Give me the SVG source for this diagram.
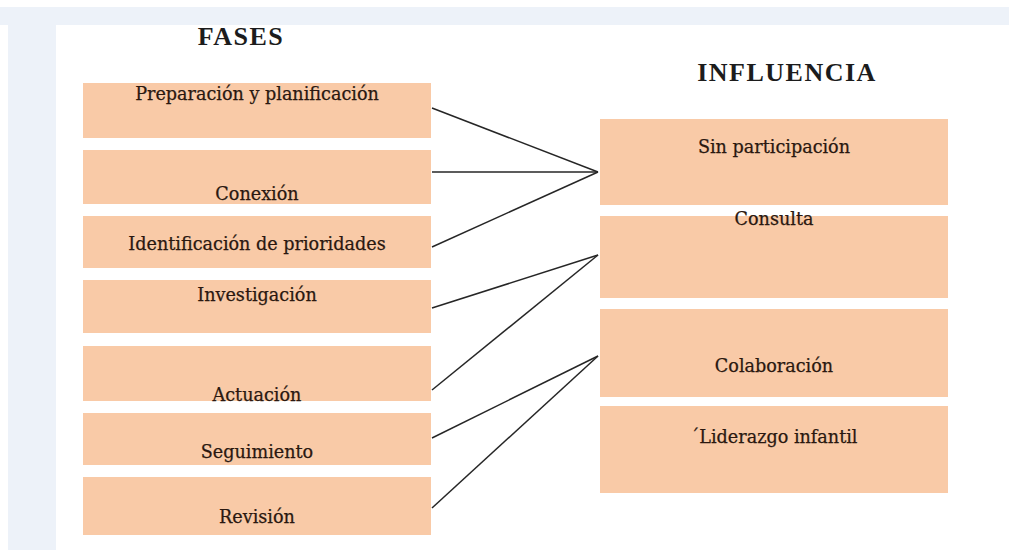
<svg xmlns="http://www.w3.org/2000/svg" width="1009" height="550" viewBox="0 0 1009 550">
<style>
.bg{fill:#edf2f9}
.box{fill:#f9caa7}
.lbl{font-family:"DejaVu Serif","Liberation Serif",serif;font-size:17.6px;fill:#2a1810;stroke:#2a1810;stroke-width:0.25;text-anchor:middle}
.title{font-family:"Liberation Serif","Times New Roman",serif;font-weight:bold;font-size:26px;letter-spacing:1.5px;fill:#1c1c1c;text-anchor:middle}
.conn{stroke:#262626;stroke-width:1.5;fill:none}
</style>
<rect x="0" y="0" width="1009" height="550" fill="#ffffff"/>
<rect class="bg" x="0" y="7" width="1009" height="18"/>
<rect class="bg" x="8" y="7" width="48" height="543"/>
<text class="title" x="241" y="45">FASES</text>
<text class="title" x="787" y="81">INFLUENCIA</text>
<g id="connectors">
<line class="conn" x1="432" y1="108" x2="598" y2="172"/>
<line class="conn" x1="432" y1="172" x2="598" y2="172"/>
<line class="conn" x1="432" y1="247" x2="598" y2="172"/>
<line class="conn" x1="432" y1="308" x2="598" y2="255"/>
<line class="conn" x1="432" y1="390" x2="598" y2="255"/>
<line class="conn" x1="432" y1="438" x2="598" y2="356"/>
<line class="conn" x1="432" y1="508" x2="598" y2="356"/>
</g>
<g id="fase-preparacion"><rect class="box" x="83" y="83" width="348" height="55"/><text class="lbl" x="257" y="100">Preparación y planificación</text></g>
<g id="fase-conexion"><rect class="box" x="83" y="150" width="348" height="54"/><text class="lbl" x="257" y="200">Conexión</text></g>
<g id="fase-identificacion"><rect class="box" x="83" y="216" width="348" height="52"/><text class="lbl" x="257" y="250">Identificación de prioridades</text></g>
<g id="fase-investigacion"><rect class="box" x="83" y="280" width="348" height="53"/><text class="lbl" x="257" y="301">Investigación</text></g>
<g id="fase-actuacion"><rect class="box" x="83" y="346" width="348" height="55"/><text class="lbl" x="257" y="401">Actuación</text></g>
<g id="fase-seguimiento"><rect class="box" x="83" y="413" width="348" height="52"/><text class="lbl" x="257" y="458">Seguimiento</text></g>
<g id="fase-revision"><rect class="box" x="83" y="477" width="348" height="58"/><text class="lbl" x="257" y="523">Revisión</text></g>
<g id="inf-sin"><rect class="box" x="600" y="119" width="348" height="86"/><text class="lbl" x="774" y="153">Sin participación</text></g>
<g id="inf-consulta"><rect class="box" x="600" y="216" width="348" height="82"/><text class="lbl" x="774" y="225">Consulta</text></g>
<g id="inf-colaboracion"><rect class="box" x="600" y="309" width="348" height="88"/><text class="lbl" x="774" y="372">Colaboración</text></g>
<g id="inf-liderazgo"><rect class="box" x="600" y="406" width="348" height="87"/><text class="lbl" x="774" y="443">´Liderazgo infantil</text></g>
</svg>
